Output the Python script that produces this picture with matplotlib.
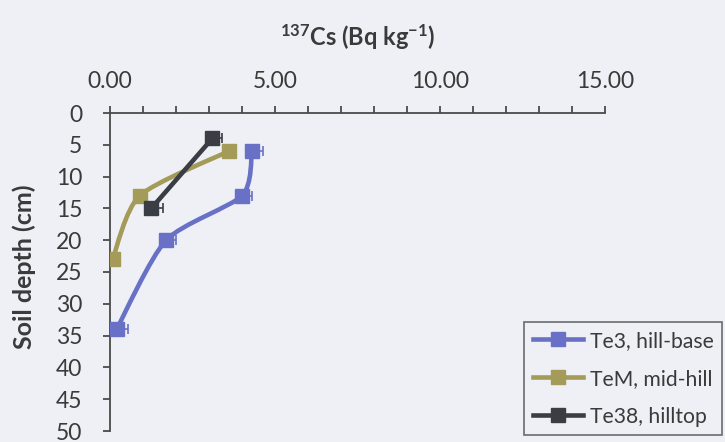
import numpy as np
import matplotlib
matplotlib.use("Agg")
import matplotlib.pyplot as plt
from matplotlib.path import Path
from matplotlib.patches import PathPatch
from matplotlib.lines import Line2D

plt.rcParams['font.family'] = ['Lato', 'DejaVu Sans']
plt.rcParams['mathtext.fontset'] = 'custom'
plt.rcParams['mathtext.rm'] = 'Lato'
plt.rcParams['mathtext.bf'] = 'Lato:bold'

# 137Cs activity profiles (Bq/kg) against soil depth (cm)
te3_cs = [4.3, 4.0, 1.7, 0.2]
te3_depth = [6, 13, 20, 34]
te3_err = [0.35, 0.3, 0.3, 0.35]

tem_cs = [3.6, 0.9, 0.08]
tem_depth = [6, 13, 23]
tem_err = [0.1, 0.1, 0.1]

te38_cs = [3.1, 1.25]
te38_depth = [4, 15]
te38_err = [0.3, 0.35]

series_labels = ["Te3, hill-base", "TeM, mid-hill", "Te38, hilltop"]
series_colors = ["#6871c6", "#a39b57", "#3a3e44"]

x_major = [0, 5, 10, 15]
y_major = list(range(0, 55, 5))

bg = "#eef0f6"
axis_col = "#4a4a4a"
text_col = "#3a3a3a"


def smooth_path(xs, ys, t=1 / 6):
    pts = np.column_stack([xs, ys]).astype(float)
    verts = [pts[0]]
    codes = [Path.MOVETO]
    n = len(pts)
    for i in range(n - 1):
        p0 = pts[i - 1] if i > 0 else pts[i]
        p1 = pts[i]
        p2 = pts[i + 1]
        p3 = pts[i + 2] if i + 2 < n else pts[i + 1]
        c1 = p1 + (p2 - p0) * t
        c2 = p2 - (p3 - p1) * t
        verts += [c1, c2, p2]
        codes += [Path.CURVE4] * 3
    return Path(verts, codes)


W, H = 725, 442
fig = plt.figure(figsize=(W / 100, H / 100), dpi=100, facecolor=bg)
left, right, top, bottom = 110, 605, 113, 431
ax = fig.add_axes([left / W, 1 - bottom / H, (right - left) / W, (bottom - top) / H])
ax.set_facecolor(bg)

ax.set_xlim(0, 15)
ax.set_ylim(50, 0)

series = [
    (te3_cs, te3_depth, te3_err),
    (tem_cs, tem_depth, tem_err),
    (te38_cs, te38_depth, te38_err),
]
for (xs, ys, err), col in zip(series, series_colors):
    ax.add_patch(PathPatch(smooth_path(xs, ys, t=1 / 8), facecolor="none",
                           edgecolor=col, lw=3.3, zorder=2,
                           capstyle="round", joinstyle="round"))
    ax.errorbar(xs, ys, xerr=[np.zeros(len(err)), err], fmt="none",
                ecolor=col, elinewidth=1.2, capsize=3.5, capthick=1.2, zorder=3)
    ax.plot(xs, ys, linestyle="none", marker="s", markersize=10,
            color=col, zorder=4)

# axes styling: x on top, depth axis reversed
for side in ("right", "bottom"):
    ax.spines[side].set_visible(False)
for side in ("top", "left"):
    ax.spines[side].set_color(axis_col)
    ax.spines[side].set_linewidth(1.3)

ax.xaxis.tick_top()
ax.xaxis.set_label_position("top")
ax.set_xticks(x_major)
ax.set_xticklabels([f"{v:.2f}" for v in x_major])
ax.set_xticks(np.arange(0, 16, 1), minor=True)
ax.tick_params(axis="x", which="both", direction="out", length=5,
               width=1.3, color=axis_col, labelsize=16.5,
               labelcolor=text_col, pad=10)
ax.set_yticks(y_major)
ax.tick_params(axis="y", which="both", direction="out", length=5,
               width=1.3, color=axis_col, labelsize=16.5,
               labelcolor=text_col, pad=15)

ax.set_xlabel(r"$\mathbf{^{137}}$Cs (Bq kg$\mathbf{^{-1}}$)", fontsize=17,
              fontweight="bold", color=text_col, labelpad=18)
fig.text(24 / W, 1 - 267 / H, "Soil depth (cm)", rotation=90, fontsize=18,
         fontweight="bold", color=text_col, ha="center", va="center")

handles = [Line2D([0], [0], color=c, lw=3.3, marker="s", markersize=9.5)
           for c in series_colors]
leg = ax.legend(handles, series_labels, loc="lower right",
                bbox_to_anchor=(722 / W, 1 - 435 / H),
                bbox_transform=fig.transFigure, fontsize=15.2, frameon=True,
                fancybox=False, edgecolor=axis_col, facecolor=bg,
                handlelength=2.4, handletextpad=0.3, borderpad=0.4,
                labelspacing=0.85, borderaxespad=0.0)
leg.get_frame().set_linewidth(1.2)
for t in leg.get_texts():
    t.set_color(text_col)

fig.savefig("out.png", dpi=100, facecolor=bg)
